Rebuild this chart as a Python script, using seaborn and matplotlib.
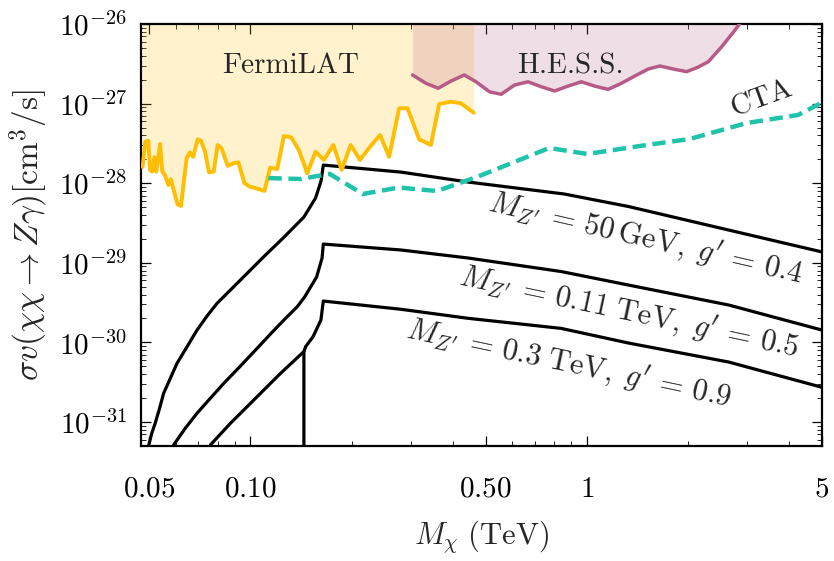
import numpy as np
import pandas as pd
import matplotlib
matplotlib.use("Agg")
import matplotlib.pyplot as plt
import seaborn as sns
from matplotlib.ticker import FixedLocator, FixedFormatter, LogLocator, NullFormatter

# ---------------- data ----------------
fermi_mass = [0.0478, 0.0487, 0.0497, 0.0503, 0.0510, 0.0518, 0.0525, 0.0539, 0.0547, 0.0557,
              0.0570, 0.0580, 0.0588, 0.0607, 0.0622, 0.0646, 0.0661, 0.0676, 0.0697, 0.0713,
              0.0733, 0.0753, 0.0778, 0.0799, 0.0821, 0.0856, 0.0890, 0.0921, 0.0960, 0.0998,
              0.1044, 0.1101, 0.1145, 0.1202, 0.1257, 0.1322, 0.1393, 0.1476, 0.1562, 0.1654,
              0.1764, 0.1867, 0.1986, 0.2117, 0.2268, 0.2429, 0.2584, 0.2768, 0.2932, 0.3175,
              0.3439, 0.3641, 0.3946, 0.4225, 0.4611]
fermi_sv = [1.60e-28, 3.32e-28, 3.42e-28, 1.47e-28, 1.40e-28, 2.12e-28, 1.40e-28, 3.11e-28, 1.40e-28, 1.27e-28,
            0.95e-28, 1.12e-28, 0.90e-28, 0.543e-28, 0.517e-28, 2.06e-28, 2.44e-28, 2.15e-28, 3.56e-28, 3.42e-28,
            2.49e-28, 1.37e-28, 1.40e-28, 3.02e-28, 2.74e-28, 1.65e-28, 1.78e-28, 1.83e-28, 1.00e-28, 0.90e-28,
            0.86e-28, 0.80e-28, 1.57e-28, 1.51e-28, 3.92e-28, 3.77e-28, 2.61e-28, 1.33e-28, 2.49e-28, 1.96e-28,
            3.02e-28, 1.47e-28, 3.02e-28, 1.96e-28, 2.87e-28, 4.03e-28, 2.15e-28, 8.73e-28, 8.73e-28, 3.56e-28,
            3.02e-28, 9.89e-28, 10.57e-28, 10.09e-28, 7.69e-28]

hess_mass = [0.3034, 0.3323, 0.3617, 0.3946, 0.4322, 0.4684, 0.5132, 0.5562, 0.6094, 0.6682,
             0.7318, 0.8019, 0.8789, 0.9630, 1.055, 1.157, 1.267, 1.388, 1.522, 1.648,
             1.807, 1.980, 2.145, 2.297, 2.517, 2.758, 2.988]
hess_sv = [2.29e-27, 1.80e-27, 1.56e-27, 1.92e-27, 2.29e-27, 1.88e-27, 1.41e-27, 1.31e-27, 1.71e-27, 1.88e-27,
           1.63e-27, 1.44e-27, 1.66e-27, 1.88e-27, 1.66e-27, 1.51e-27, 1.80e-27, 2.22e-27, 2.72e-27, 2.97e-27,
           2.72e-27, 2.52e-27, 2.88e-27, 3.36e-27, 5.19e-27, 8.41e-27, 1.335e-26]

cta_mass = [0.1131, 0.1409, 0.1720, 0.2157, 0.2763, 0.3585, 0.4716, 0.7731, 1.0035, 1.504,
            2.021, 2.988, 4.241, 5.0]
cta_sv = [1.16e-28, 1.13e-28, 1.31e-28, 7.32e-29, 8.83e-29, 7.98e-29, 1.20e-28, 2.77e-28, 2.33e-28, 3.02e-28,
          3.59e-28, 5.71e-28, 7.19e-28, 1.03e-27]

# M_Z' = 50 GeV, g' = 0.4
z50_mass = [0.0493, 0.0498, 0.0509, 0.0521, 0.0537, 0.0552, 0.0578, 0.0605, 0.0648, 0.0694,
            0.0743, 0.0796, 0.0934, 0.1095, 0.1257, 0.1442, 0.1562, 0.1622, 0.1647,
            0.2800, 0.4433, 0.8568, 1.329, 2.641, 5.0]
z50_sv = [3.85e-32, 5.00e-32, 7.21e-32, 9.63e-32, 1.486e-31, 2.29e-31, 3.54e-31, 5.46e-31, 8.83e-31, 1.43e-30,
          2.146e-30, 3.10e-30, 6.08e-30, 1.19e-29, 2.09e-29, 3.76e-29, 6.52e-29, 1.07e-28, 1.69e-28,
          1.38e-28, 1.035e-28, 7.32e-29, 5.10e-29, 2.58e-29, 1.37e-29]

# M_Z' = 0.11 TeV, g' = 0.5
z110_mass = [0.0584, 0.0591, 0.0640, 0.0694, 0.0760, 0.0833, 0.0934, 0.1047, 0.1147, 0.1257,
             0.1378, 0.1449, 0.1573, 0.1633, 0.1647,
             0.2800, 0.4433, 0.8393, 1.329, 2.641, 5.0]
z110_sv = [3.85e-32, 5.14e-32, 8.33e-32, 1.29e-31, 1.985e-31, 3.06e-31, 5.05e-31, 8.43e-31, 1.275e-30, 1.91e-30,
           2.81e-30, 3.72e-30, 6.63e-30, 1.15e-29, 1.72e-29,
           1.45e-29, 1.15e-29, 7.77e-30, 5.26e-30, 2.95e-30, 1.43e-30]

# M_Z' = 0.3 TeV, g' = 0.9 : lower branch and upper branch
z300_low_mass = [0.0752, 0.0760, 0.0872, 0.1047, 0.1229, 0.1442]
z300_low_sv = [3.85e-32, 5.14e-32, 9.63e-32, 2.08e-31, 4.09e-31, 7.68e-31]
z300_up_mass = [0.1442, 0.1442, 0.1459, 0.1535, 0.1620, 0.1647, 0.2800, 0.4433, 0.8393, 1.329, 2.641, 5.0]
z300_up_sv = [3.33e-32, 7.68e-31, 8.83e-31, 1.18e-30, 1.91e-30, 3.31e-30, 2.61e-30, 2.01e-30, 1.50e-30,
              9.83e-31, 5.67e-31, 2.73e-31]

x_ticks = [0.05, 0.10, 0.50, 1, 5]
x_tick_labels = ["0.05", "0.10", "0.50", "1", "5"]
y_ticks = [1e-31, 1e-30, 1e-29, 1e-28, 1e-27, 1e-26]
y_tick_labels = [r"$10^{-31}$", r"$10^{-30}$", r"$10^{-29}$", r"$10^{-28}$", r"$10^{-27}$", r"$10^{-26}$"]

# ---------------- style ----------------
sns.set_theme(style="ticks")
plt.rcParams["mathtext.fontset"] = "cm"
plt.rcParams["font.family"] = ["serif"]
plt.rcParams["font.serif"] = ["cmr10", "DejaVu Serif"]
plt.rcParams["axes.unicode_minus"] = False

FERMI = "#FFBF00"
HESS = "#B65A86"
CTA = "#1EC3AA"

fig = plt.figure(figsize=(8.34, 5.61), dpi=100)
ax = fig.add_axes([0.1691, 0.2050, 0.8165, 0.7522])
ax.set_xscale("log")
ax.set_yscale("log")

# exclusion regions
ax.fill_between(fermi_mass, fermi_sv, 1e-26, color=FERMI, alpha=0.2, lw=0, zorder=1)
ax.fill_between(hess_mass, hess_sv, 1e-26, color=HESS, alpha=0.2, lw=0, zorder=1)


def line(xs, ys, color, lw, dashes=None, z=3):
    df = pd.DataFrame({"m": xs, "sv": ys})
    sns.lineplot(data=df, x="m", y="sv", ax=ax, sort=False, estimator=None,
                 color=color, lw=lw, zorder=z)
    ln = ax.lines[-1]
    ln.set_solid_joinstyle("round")
    if dashes is not None:
        ln.set_dashes(dashes)


line(z50_mass, z50_sv, "black", 2.3)
line(z110_mass, z110_sv, "black", 2.3)
line(z300_low_mass, z300_low_sv, "black", 2.3)
line(z300_up_mass, z300_up_sv, "black", 2.3)
line(fermi_mass, fermi_sv, FERMI, 2.8, z=4)
line(hess_mass, hess_sv, HESS, 2.5, z=4)
line(cta_mass, cta_sv, CTA, 3.2, dashes=(3.0, 1.5), z=4)

ax.set_xlim(0.0473, 5.0)
ax.set_ylim(5e-32, 1e-26)

ax.xaxis.set_major_locator(FixedLocator(x_ticks))
ax.xaxis.set_major_formatter(FixedFormatter([f"${t}$" for t in x_tick_labels]))
ax.xaxis.set_minor_locator(LogLocator(base=10, subs=np.arange(2, 10) * 1.0, numticks=20))
ax.xaxis.set_minor_formatter(NullFormatter())
ax.yaxis.set_major_locator(FixedLocator(y_ticks))
ax.yaxis.set_major_formatter(FixedFormatter(y_tick_labels))
ax.yaxis.set_minor_locator(LogLocator(base=10, subs=np.arange(2, 10) * 1.0, numticks=20))
ax.yaxis.set_minor_formatter(NullFormatter())

ax.tick_params(which="both", direction="in", top=True, right=True, colors="black", labelsize=21)
ax.tick_params(axis="y", pad=10)
ax.tick_params(axis="x", pad=22)
ax.tick_params(which="major", length=7, width=0.9)
ax.tick_params(which="minor", length=3.5, width=0.6)
for s in ax.spines.values():
    s.set_linewidth(1.6)
    s.set_color("black")

ax.set_xlabel(r"$M_{\chi}\ (\mathrm{TeV})$", fontsize=22, labelpad=11)
ax.set_ylabel(r"$\sigma v(\chi\chi \rightarrow Z\gamma)[\mathrm{cm}^3/\mathrm{s}]$", fontsize=24, labelpad=6)

# annotations
ax.text(0.219, 0.900, "FermiLAT", transform=ax.transAxes, fontsize=21,
        ha="center", va="center", zorder=6)
ax.text(0.630, 0.900, "H.E.S.S.", transform=ax.transAxes, fontsize=21,
        ha="center", va="center", zorder=6)
ax.text(0.912, 0.822, "CTA", transform=ax.transAxes, fontsize=21,
        ha="center", va="center", rotation=20, rotation_mode="anchor", zorder=6)
ax.text(0.742, 0.492, r"$M_{Z'}\, =\, 50\,\mathrm{GeV},\; g'\, =\, 0.4$", transform=ax.transAxes,
        fontsize=22, ha="center", va="center", rotation=-13, rotation_mode="anchor", zorder=6)
ax.text(0.716, 0.316, r"$M_{Z'}\, =\, 0.11\;\mathrm{TeV},\; g'\, =\, 0.5$", transform=ax.transAxes,
        fontsize=22, ha="center", va="center", rotation=-12, rotation_mode="anchor", zorder=6)
ax.text(0.628, 0.196, r"$M_{Z'}\, =\, 0.3\;\mathrm{TeV},\; g'\, =\, 0.9$", transform=ax.transAxes,
        fontsize=22, ha="center", va="center", rotation=-12, rotation_mode="anchor", zorder=6)

fig.savefig("out.png", dpi=100)
